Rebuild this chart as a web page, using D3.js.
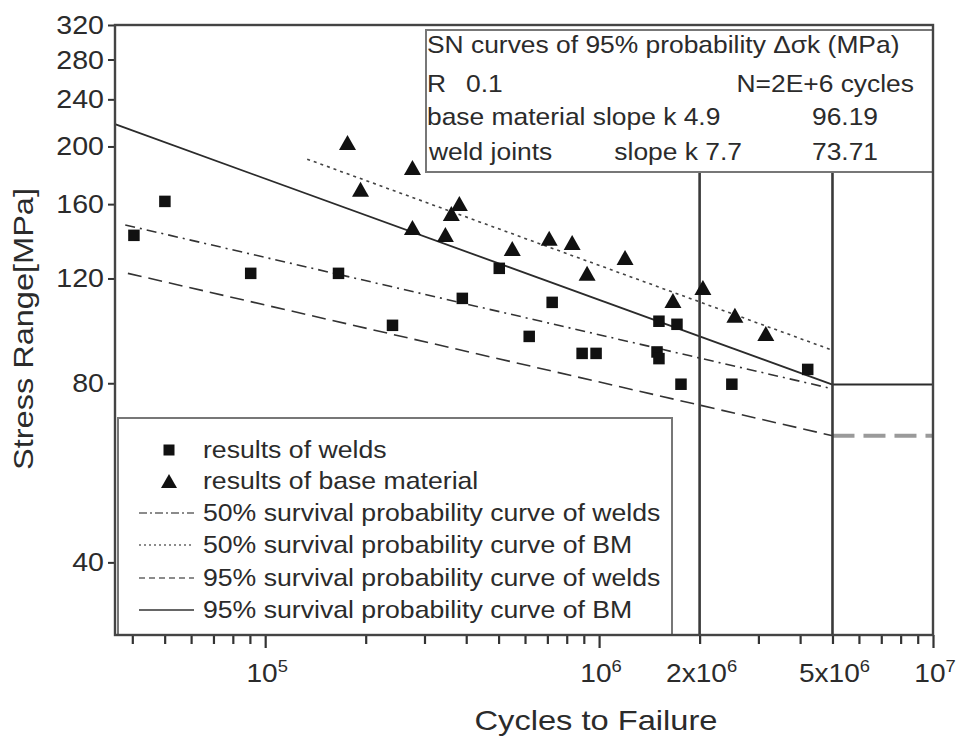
<!DOCTYPE html>
<html><head><meta charset="utf-8">
<script src="https://cdn.jsdelivr.net/npm/d3@7"></script>
<style>
html,body{margin:0;padding:0;background:#fff;}
svg{display:block;font-family:"Liberation Sans",Arial,sans-serif;}
</style></head>
<body>
<svg id="chart" width="961" height="738"></svg>
<script>
// ---------- data ----------
const weldN = [40450, 50080, 90500, 165800, 240600, 389400, 502400, 617600, 723600, 889600, 979500, 1491000, 1511000, 1511000, 1711000, 1759000, 2498000, 4215000];
const weldS = [141.8, 161.7, 122.4, 122.4, 100.1, 111.1, 124.8, 95.9, 109.4, 89.8, 89.8, 90.3, 88.0, 101.7, 100.5, 79.7, 79.7, 84.4];
const bmN = [176400, 276100, 193000, 276100, 346500, 381500, 361000, 549500, 708800, 830500, 920600, 1196000, 1664000, 2046000, 2551000, 3157000];
const bmS = [203.1, 184.4, 169.4, 146.2, 142.3, 160.4, 154.3, 134.8, 140.2, 137.9, 122.4, 130.2, 110.2, 115.9, 104.1, 97.0];

const curveBM95 = [[35500, 218], [5e6, 79.6]];
const curveBM95ext = [[5e6, 79.6], [1e7, 79.6]];
const curveWeld95 = [[38800, 122.4], [5e6, 65.3]];
const curveWeld95ext = [[5e6, 65.3], [1e7, 65.3]];
const curveWeld50 = [[38100, 147.6], [5e6, 78.3]];
const curveBM50 = [[133600, 190.4], [5e6, 90.9]];
const refCycles = [2e6, 5e6];

const yTicks = [40, 80, 120, 160, 200, 240, 280, 320];
const xMajor = [1e5, 1e6, 1e7];
const xLabels = [
  {v: 1e5, base: "10", sup: "5"},
  {v: 1e6, base: "10", sup: "6"},
  {v: 2e6, base: "2x10", sup: "6"},
  {v: 5e6, base: "5x10", sup: "6"},
  {v: 1e7, base: "10", sup: "7"}
];
const legendItems = [
  {type: "square", label: "results of welds"},
  {type: "triangle", label: "results of base material"},
  {type: "dashdot", label: "50% survival probability curve of welds"},
  {type: "dot", label: "50% survival probability curve of BM"},
  {type: "dash", label: "95% survival probability curve of welds"},
  {type: "solid", label: "95% survival probability curve of BM"}
];
const tableRows = [
  [{t: "SN curves of 95% probability \u0394\u03c3k (MPa)", x: 427, a: "start"}],
  [{t: "R", x: 427, a: "start"}, {t: "0.1", x: 466, a: "start"}, {t: "N=2E+6 cycles", x: 914, a: "end"}],
  [{t: "base  material slope k 4.9", x: 427, a: "start"}, {t: "96.19", x: 878, a: "end"}],
  [{t: "weld joints", x: 429, a: "start"}, {t: "slope k  7.7", x: 742, a: "end"}, {t: "73.71", x: 878, a: "end"}]
];

// ---------- layout ----------
const L = 115, R = 933, T = 25, B = 635;
const svg = d3.select("#chart");
const x = d3.scaleLog().domain([35500, 1e7]).range([L, R]);
const y = d3.scaleLog().domain([30.2, 320]).range([B, T]);
const ink = "#2b2b2b";

// lines
const line = d3.line().x(d => x(d[0])).y(d => y(d[1]));
function drawCurve(data, dash, w, col) {
  svg.append("path").attr("d", line(data)).attr("fill", "none")
    .attr("stroke", col || ink).attr("stroke-width", w)
    .attr("stroke-dasharray", dash);
}
drawCurve(curveBM95, null, 1.8);
drawCurve(curveBM95ext, null, 2);
drawCurve(curveWeld95, "14,7", 1.6, "#333");
drawCurve(curveWeld95ext, "22,9", 4, "#9a9a9a");
drawCurve(curveWeld50, "10,5,2,5", 1.6, "#333");
drawCurve(curveBM50, "3,4", 1.6, "#444");

// vertical reference lines
svg.selectAll(".ref").data(refCycles).enter().append("line")
  .attr("x1", d => x(d)).attr("x2", d => x(d)).attr("y1", B).attr("y2", 172)
  .attr("stroke", "#3a3a3a").attr("stroke-width", 2.6);

// table box
svg.append("rect").attr("x", 426).attr("y", 30).attr("width", R - 426).attr("height", 142)
  .attr("fill", "#fff").attr("stroke", "#777").attr("stroke-width", 2);
const rowBase = [53, 92, 125, 160];
tableRows.forEach((row, i) => {
  row.forEach(c => {
    svg.append("text").attr("transform", `translate(${c.x},${rowBase[i]}) scale(1.1,1)`)
      .attr("text-anchor", c.a).attr("font-size", 24).attr("fill", ink).text(c.t);
  });
});

// markers
function triPath(cx, cy, w, h) {
  return `M${cx},${cy - h / 2}L${cx + w / 2},${cy + h / 2}L${cx - w / 2},${cy + h / 2}Z`;
}
const sq = 11.5;
svg.selectAll(".sq").data(weldN.map((n, i) => [n, weldS[i]])).enter().append("rect")
  .attr("x", d => x(d[0]) - sq / 2).attr("y", d => y(d[1]) - sq / 2)
  .attr("width", sq).attr("height", sq).attr("fill", "#111");
svg.selectAll(".tri").data(bmN.map((n, i) => [n, bmS[i]])).enter().append("path")
  .attr("d", d => triPath(x(d[0]), y(d[1]), 17, 15)).attr("fill", "#111");

// legend
svg.append("rect").attr("x", 118).attr("y", 418).attr("width", 672 - 118).attr("height", B - 418)
  .attr("fill", "#fff").attr("stroke", "#777").attr("stroke-width", 2);
const legY = [450, 481, 513, 545, 578, 610];
legendItems.forEach((it, i) => {
  const cy = legY[i];
  if (it.type === "square") {
    svg.append("rect").attr("x", 169 - 5.5).attr("y", cy - 5.5).attr("width", 11).attr("height", 11).attr("fill", "#111");
  } else if (it.type === "triangle") {
    svg.append("path").attr("d", triPath(169, cy, 16, 14)).attr("fill", "#111");
  } else {
    const dash = {dashdot: "8,3,2,3", dot: "2,3", dash: "6,4", solid: null}[it.type];
    svg.append("line").attr("x1", 139).attr("x2", 194).attr("y1", cy).attr("y2", cy)
      .attr("stroke", "#666").attr("stroke-width", it.type === "solid" ? 2.2 : 1.6)
      .attr("stroke-dasharray", dash);
  }
  svg.append("text").attr("transform", `translate(203,${cy + 8}) scale(1.11,1)`)
    .attr("font-size", 24).attr("fill", ink).text(it.label);
});

// axes
const xMinor = [];
for (let e = 4; e <= 6; e++) for (let m = 1; m <= 9; m++) {
  const v = m * Math.pow(10, e);
  if (v >= 35500 && v <= 1e7 && m !== 1) xMinor.push(v);
}
const gxm = svg.append("g").attr("transform", `translate(0,${B})`)
  .call(d3.axisBottom(x).tickValues(xMinor).tickFormat("").tickSize(9).tickSizeOuter(0));
const gxM = svg.append("g").attr("transform", `translate(0,${B})`)
  .call(d3.axisBottom(x).tickValues(xMajor).tickFormat("").tickSize(13).tickSizeOuter(0));
[gxm, gxM].forEach(g => {
  g.select(".domain").remove();
  g.selectAll(".tick line").attr("stroke", "#333").attr("stroke-width", 2.2);
});
const gy = svg.append("g").attr("transform", `translate(${L},0)`)
  .call(d3.axisLeft(y).tickValues(yTicks).tickFormat("").tickSize(7).tickSizeOuter(0));
gy.select(".domain").remove();
gy.selectAll(".tick line").attr("stroke", "#333").attr("stroke-width", 2);

// frame
svg.append("rect").attr("x", L).attr("y", T).attr("width", R - L).attr("height", B - T)
  .attr("fill", "none").attr("stroke", "#444").attr("stroke-width", 2.4);

// y tick labels
yTicks.forEach(v => {
  svg.append("text").attr("transform", `translate(104,${y(v) + 9}) scale(1.1,1)`)
    .attr("text-anchor", "end").attr("font-size", 26).attr("fill", ink).text(v);
});
// x tick labels
xLabels.forEach(d => {
  const t = svg.append("text").attr("transform", `translate(${x(d.v) + 2},682) scale(1.08,1)`)
    .attr("text-anchor", "middle").attr("font-size", 26).attr("fill", ink);
  t.append("tspan").text(d.base);
  t.append("tspan").attr("font-size", 17).attr("dy", -10).text(d.sup);
});

// axis titles
svg.append("text").attr("x", 596).attr("y", 730).attr("text-anchor", "middle")
  .attr("font-size", 28).attr("fill", ink)
  .attr("textLength", 243).attr("lengthAdjust", "spacingAndGlyphs").text("Cycles to Failure");
svg.append("text").attr("transform", "translate(33,329) rotate(-90)").attr("text-anchor", "middle")
  .attr("font-size", 28).attr("fill", ink)
  .attr("textLength", 282).attr("lengthAdjust", "spacingAndGlyphs").text("Stress Range[MPa]");
</script>
</body></html>
